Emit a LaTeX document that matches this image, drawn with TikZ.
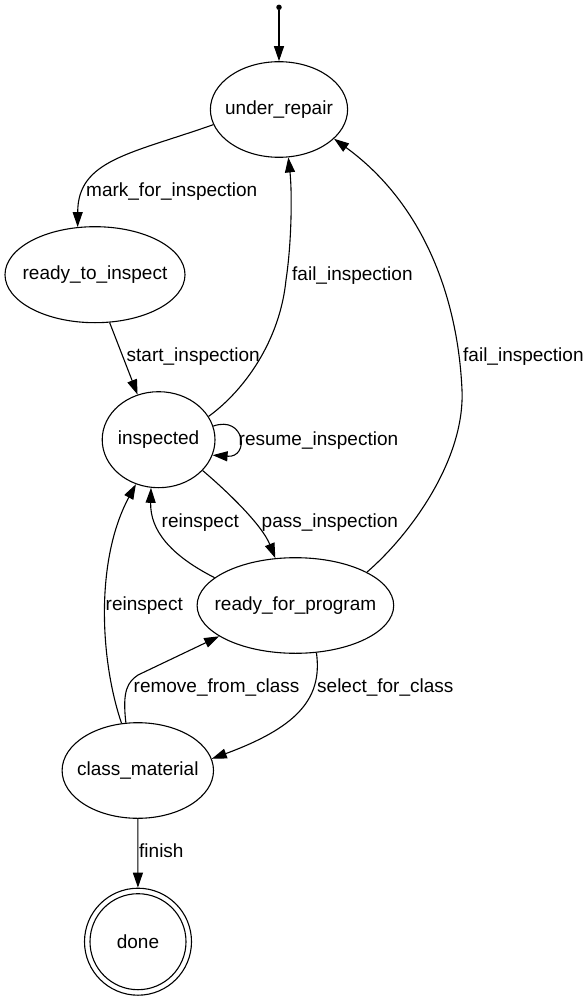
\documentclass[tikz,border=0pt]{standalone}
\usepackage{fontspec}
\setmainfont{Liberation Sans}
\usetikzlibrary{shapes.geometric,arrows.meta}
\begin{document}
\begin{tikzpicture}[x=1pt,y=-1pt,
  st/.style={ellipse, draw, line width=1.1pt, inner sep=0pt, font=\fontsize{19}{22}\selectfont},
  lbl/.style={anchor=base west, inner sep=0pt, font=\fontsize{19}{22}\selectfont},
  tr/.style={line width=1.1pt, -{Triangle[length=15pt,width=10pt]}}]
\useasboundingbox (0,0) rectangle (585,1000);
\node[circle, fill, inner sep=0pt, minimum size=5.5pt] (s) at (279,7.3) {};
\node[st, minimum width=137.2pt, minimum height=95.6pt] (ur) at (279,109.5) {\makebox[0pt]{under\_repair}};
\node[st, minimum width=180pt, minimum height=96pt] (rti) at (95,274.7) {\makebox[0pt]{ready\_to\_inspect}};
\node[st, minimum width=112.8pt, minimum height=96pt] (ins) at (158.6,439.7) {\makebox[0pt]{inspected}};
\node[st, minimum width=196.6pt, minimum height=95.6pt] (rfp) at (295.4,605.5) {\makebox[0pt]{ready\_for\_program}};
\node[st, minimum width=151.4pt, minimum height=95.6pt] (cm) at (137.8,770.5) {\makebox[0pt]{class\_material}};
\node[st, circle, minimum size=107pt] (done) at (138,941.7) {\makebox[0pt]{done}};
\draw[line width=1.1pt] (done.center) circle[radius=48pt];

\node[lbl] (l1) at (86,197) {mark\_for\_inspection};
\node[lbl] (l2) at (292,280) {fail\_inspection};
\node[lbl] (l3) at (126.5,361.7) {start\_inspection};
\node[lbl] (l4) at (463,361.7) {fail\_inspection};
\node[lbl] (l5) at (238.5,445) {resume\_inspection};
\node[lbl] (l6) at (161.5,527.7) {reinspect};
\node[lbl] (l7) at (261.5,527.7) {pass\_inspection};
\node[lbl] (l8) at (105.5,610) {reinspect};
\node[lbl] (l9) at (133.5,692.7) {remove\_from\_class};
\node[lbl] (l10) at (317,692.7) {select\_for\_class};
\node[lbl] (l11) at (139,857.3) {finish};

\draw[tr] (s) -- (ur);
\draw[tr] (ur.193.9) .. controls (130,154) and (77.8,160) .. (rti.110.1);
\draw[tr] (rti.287.6) -- (ins.115.6);
\draw[tr] (ins.25.4) .. controls (245,390) and (280,340) .. (286,280) .. controls (292,240) and (292,190) .. (ur.281.5);
\draw[tr] (ins.14.8) .. controls (245,415) and (250,458) .. (ins.-16);
\draw[tr] (ins.-35.2) .. controls (228,492) and (262,525) .. (rfp.113.7);
\draw[tr] (rfp.161.6) .. controls (170,555) and (150,530) .. (ins.261.6);
\draw[tr] (rfp.25.5) .. controls (410,535) and (465,460) .. (462,390) .. controls (458,300) and (425,205) .. (ur.-28.5);
\draw[tr] (cm.109.6) .. controls (100,660) and (95,560) .. (ins.243);
\draw[tr] (cm.104.8) .. controls (122,690) and (128,682) .. (138,675) -- (rfp.202);
\draw[tr] (rfp.-66.9) .. controls (323,700) and (295,728) .. (cm.9.3);
\draw[tr] (cm) -- (done);
\end{tikzpicture}
\end{document}
